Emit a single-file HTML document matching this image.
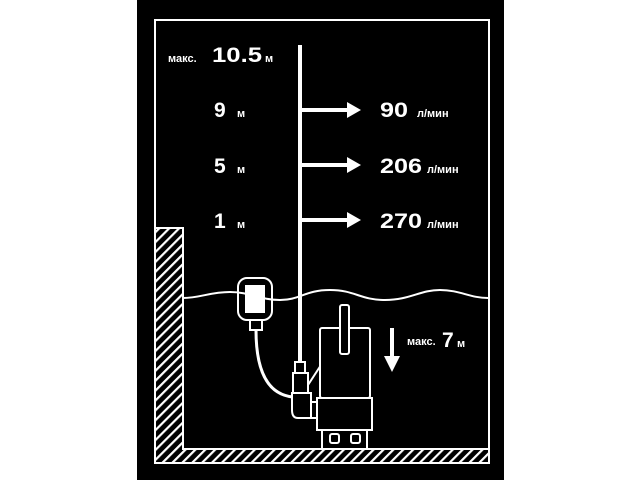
<!DOCTYPE html>
<html><head><meta charset="utf-8"><style>
html,body{margin:0;padding:0;background:#fff;width:640px;height:480px;overflow:hidden}
svg{display:block}
text{font-family:"Liberation Sans",sans-serif;font-weight:bold;fill:#fff}
</style></head><body>
<svg width="640" height="480" viewBox="0 0 640 480" xmlns="http://www.w3.org/2000/svg">
<defs>
<pattern id="h" patternUnits="userSpaceOnUse" width="7" height="7" patternTransform="rotate(45)">
<rect width="7" height="7" fill="#000"/><rect width="2.2" height="7" fill="#fff"/>
</pattern>
</defs>
<rect x="137" y="0" width="367" height="480" fill="#000"/>
<g fill="none" stroke="#fff" stroke-width="2">
<path d="M155 228 V20 H489 V463 H155 V228 H183 V449 H489"/>
</g>
<path d="M156 229 H182 V450 H488 V462 H156 Z" fill="url(#h)"/>
<path d="M155 228 H183 V449 H489 V463 H155 Z" fill="none" stroke="#fff" stroke-width="2"/>
<path d="M183 298 C200 298 210 292 230 292 C250 292 260 300 280 300 C300 300 305 290 330 290 C355 290 360 300 385 300 C410 300 420 290 440 290 C460 290 470 298 488 298" fill="none" stroke="#fff" stroke-width="2"/>
<rect x="298" y="45" width="4" height="318" fill="#fff"/>
<g fill="#fff">
<rect x="300" y="108" width="50" height="4"/><path d="M347 102 L361 110 L347 118Z"/>
<rect x="300" y="163" width="50" height="4"/><path d="M347 157 L361 165 L347 173Z"/>
<rect x="300" y="218" width="50" height="4"/><path d="M347 212 L361 220 L347 228Z"/>
<rect x="390" y="328" width="4" height="30"/><path d="M384 356 L392 372 L400 356Z"/>
</g>
<rect x="238" y="278" width="34" height="42" rx="9" fill="none" stroke="#fff" stroke-width="2"/>
<rect x="245" y="285" width="20" height="28" fill="#fff"/>
<rect x="250" y="320" width="12" height="10" fill="none" stroke="#fff" stroke-width="2"/>
<path d="M256 330 C256 360 262 394 293 397" fill="none" stroke="#fff" stroke-width="3"/>
<g fill="#000" stroke="#fff" stroke-width="2">
<rect x="295" y="362" width="10" height="11"/>
<rect x="293" y="373" width="15" height="22"/>
<path d="M308 385 L321 365"/>
<path d="M292 393 H311 V418 H298 Q292 418 292 410 Z"/>
<rect x="311" y="402" width="6" height="16"/>
<rect x="320" y="328" width="50" height="70" rx="2"/>
<rect x="340" y="305" width="9" height="49" rx="2"/>
<rect x="317" y="398" width="55" height="32"/>
<rect x="322" y="430" width="45" height="19"/>
<rect x="330" y="434" width="9" height="9" rx="2"/>
<rect x="351" y="434" width="9" height="9" rx="2"/>
</g>
<text x="168" y="62" font-size="11">макс.</text>
<text x="212" y="62" font-size="21" textLength="50" lengthAdjust="spacingAndGlyphs">10.5</text>
<text x="265" y="62" font-size="11">м</text>
<text x="214" y="117" font-size="21">9</text><text x="237" y="117" font-size="11">м</text>
<text x="214" y="173" font-size="21">5</text><text x="237" y="173" font-size="11">м</text>
<text x="214" y="228" font-size="21">1</text><text x="237" y="228" font-size="11">м</text>
<text x="380" y="117" font-size="21" textLength="28" lengthAdjust="spacingAndGlyphs">90</text><text x="417" y="117" font-size="11">л/мин</text>
<text x="380" y="173" font-size="21" textLength="42" lengthAdjust="spacingAndGlyphs">206</text><text x="427" y="173" font-size="11">л/мин</text>
<text x="380" y="228" font-size="21" textLength="42" lengthAdjust="spacingAndGlyphs">270</text><text x="427" y="228" font-size="11">л/мин</text>
<text x="407" y="345" font-size="11">макс.</text>
<text x="442" y="347" font-size="21">7</text><text x="457" y="347" font-size="11">м</text>
</svg>
</body></html>
